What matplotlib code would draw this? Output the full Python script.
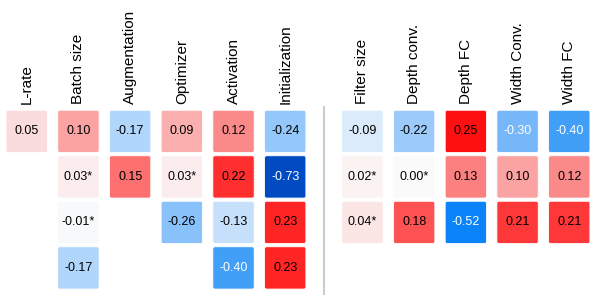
import matplotlib
matplotlib.use('Agg')
import matplotlib.pyplot as plt
from matplotlib.colors import LinearSegmentedColormap
from matplotlib.patches import FancyBboxPatch

plt.rcParams['font.family'] = ['Liberation Sans', 'DejaVu Sans']

# Columns (hyper-parameters) and their correlation values, top to bottom
columns = ['L-rate', 'Batch size', 'Augmentation', 'Optimizer', 'Activation',
           'Initialization', 'Filter size', 'Depth conv.', 'Depth FC',
           'Width Conv.', 'Width FC']

lrate = [0.05]
batch_size = [0.10, 0.03, -0.01, -0.17]
augmentation = [-0.17, 0.15]
optimizer = [0.09, 0.03, -0.26]
activation = [0.12, 0.22, -0.13, -0.40]
initialization = [-0.24, -0.73, 0.23, 0.23]
filter_size = [-0.09, 0.02, 0.04]
depth_conv = [-0.22, 0.00, 0.18]
depth_fc = [0.25, 0.13, -0.52]
width_conv = [-0.30, 0.10, 0.21]
width_fc = [-0.40, 0.12, 0.21]

# non significant entries (marked with *)
batch_ns = [False, True, True, False]
optimizer_ns = [False, True, False]
filter_ns = [False, True, True]
depth_conv_ns = [False, True, False]

values = [lrate, batch_size, augmentation, optimizer, activation, initialization,
          filter_size, depth_conv, depth_fc, width_conv, width_fc]
stars = [None, batch_ns, None, optimizer_ns, None, None,
         filter_ns, depth_conv_ns, None, None, None]

# colour scale: blue for negative, red for positive
neg_max, pos_max = 0.75, 0.26
neg_nodes = [(-0.75, '#0046bd'), (-0.52, '#0a84f8'), (-0.40, '#42a0f8'),
             (-0.30, '#78b8f9'), (-0.17, '#b3d7fb'), (-0.09, '#dcebfb'),
             (0.0, '#fafafa')]
pos_nodes = [(0.03, '#fbeded'), (0.05, '#fbdcdc'), (0.09, '#fbb0b0'),
             (0.12, '#fa8a8a'), (0.15, '#fc7070'), (0.18, '#fc5252'),
             (0.22, '#ff3030'), (0.26, '#ff0808')]


def pos(v):
    if v < 0:
        return 0.5 * (1 + v / neg_max)
    return 0.5 + 0.5 * v / pos_max


cmap = LinearSegmentedColormap.from_list(
    'corr', [(pos(v), c) for v, c in neg_nodes + pos_nodes])

fig = plt.figure(figsize=(5.98, 3.06), dpi=100)
ax = fig.add_axes([0, 0, 1, 1])
ax.set_xlim(-0.517, 11.05)
ax.set_ylim(3.837, -2.888)
ax.axis('off')

gap = 0.494
cw, ch = 0.80, 0.93

for i, (name, col) in enumerate(zip(columns, values)):
    x = i + (gap if i >= 6 else 0)
    ax.text(x, -0.61, name, rotation=90, ha='center', va='bottom', fontsize=11)
    for r, v in enumerate(col):
        color = cmap(pos(max(min(v, pos_max), -neg_max)))
        box = FancyBboxPatch((x - cw / 2, r - ch / 2), cw, ch,
                             boxstyle='round,pad=0,rounding_size=0.04',
                             mutation_aspect=51.7 / 45.5,
                             facecolor=color, edgecolor='white', lw=0.6)
        ax.add_patch(box)
        label = f'{v:.2f}'
        if stars[i] is not None and stars[i][r]:
            label += '*'
        tc = 'white' if v <= -0.30 else 'black'
        ax.text(x, r, label, ha='center', va='center', fontsize=9, color=tc)

# divider between training and architecture parameters
ax.plot([5.75, 5.75], [-0.536, 3.57], color='#cccccc', lw=1.5)

plt.savefig('out.png', dpi=100)
